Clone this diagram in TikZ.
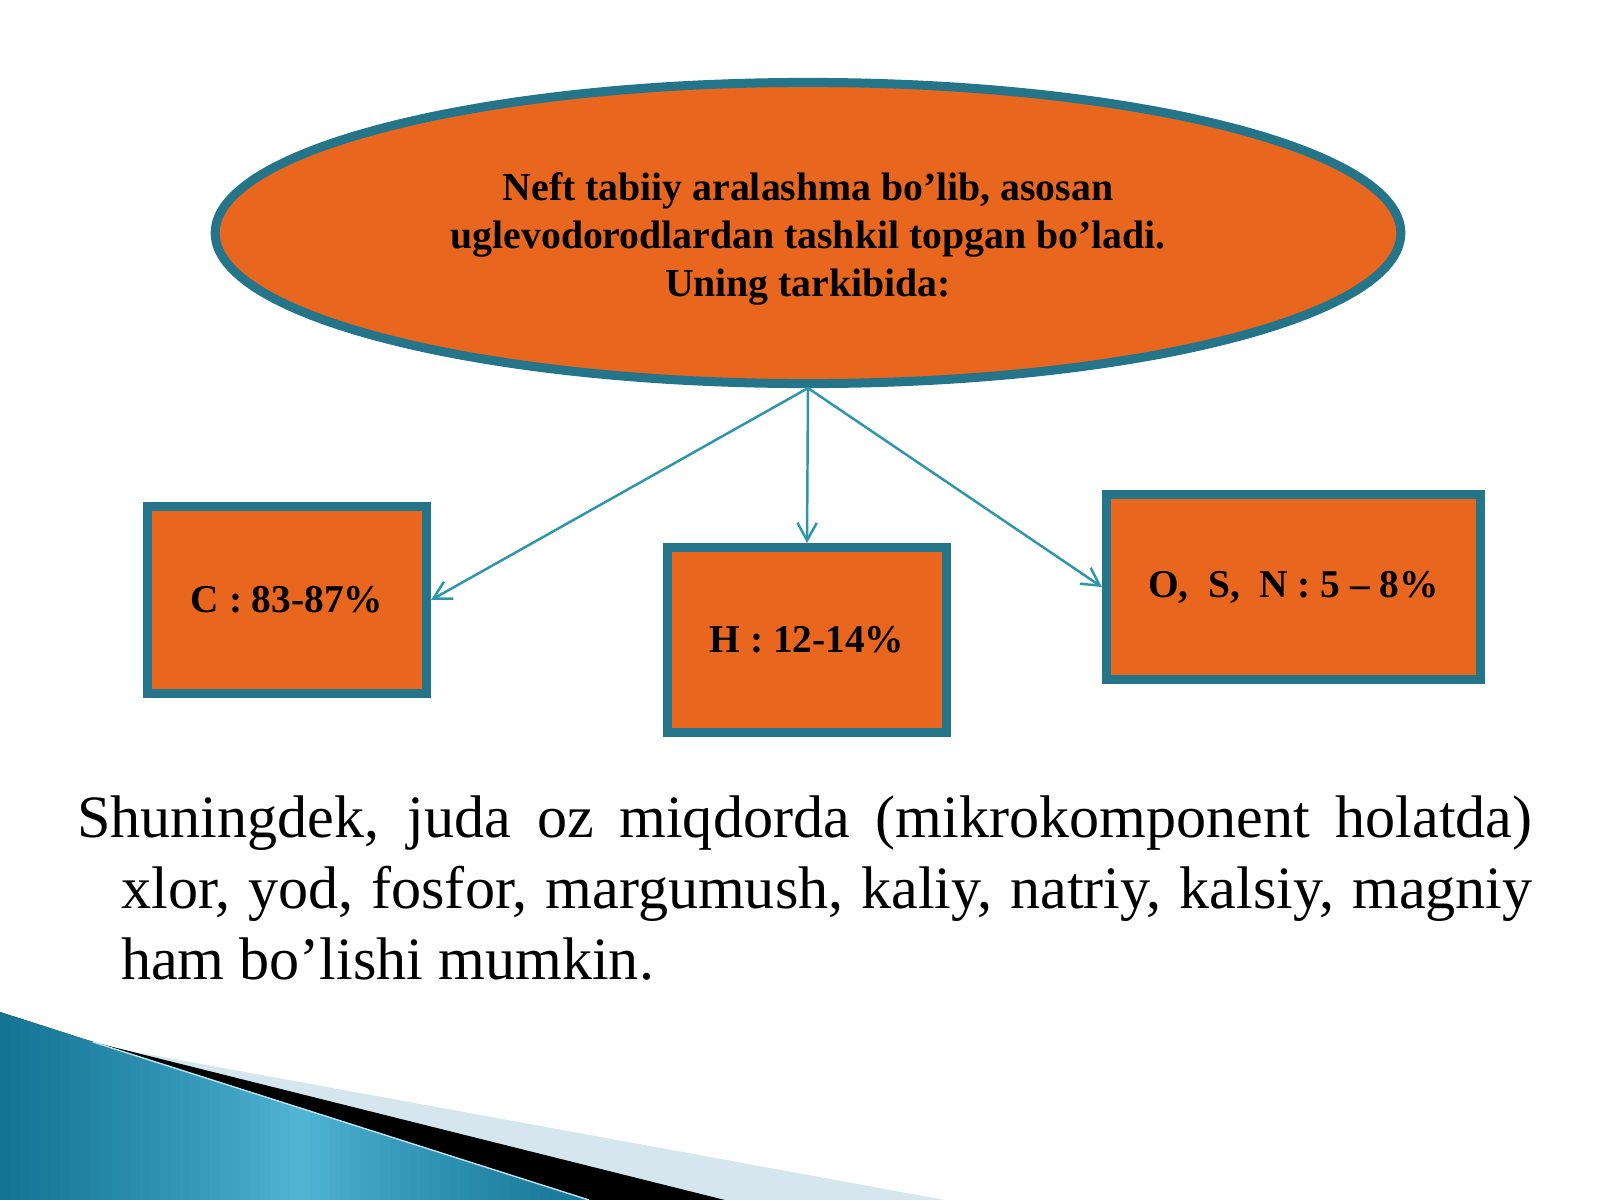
\documentclass[tikz,border=0pt]{standalone}
\usepackage{fontspec}
\setmainfont{Liberation Serif}
\usetikzlibrary{shapes.geometric,arrows.meta}
\definecolor{orng}{RGB}{232,102,30}
\definecolor{tealb}{RGB}{36,116,138}
\definecolor{arrowc}{RGB}{45,150,170}
\definecolor{lightstripe}{RGB}{214,230,238}
\definecolor{bluedark}{RGB}{20,116,148}
\definecolor{bluelight}{RGB}{82,182,214}
\begin{document}
\begin{tikzpicture}[x=0.01cm,y=-0.01cm,
  bigoval/.style={ellipse, draw=tealb, line width=2.56pt, fill=orng,
    minimum width=11.85cm, minimum height=3.01cm, inner sep=0pt},
  ovaltext/.style={align=center, inner sep=0pt,
    font=\fontsize{11.3}{13.66}\selectfont\bfseries},
  databox/.style={rectangle, draw=tealb, line width=2.7pt, fill=orng, inner sep=0pt,
    font=\fontsize{11.2}{13.4}\selectfont\bfseries},
  link/.style={draw=arrowc, line width=0.7pt, -{Straight Barb[length=5pt,width=5.5pt]}},
  bodytext/.style={anchor=base west, inner sep=0pt, font=\fontsize{17.1}{20.2}\selectfont}
]
\useasboundingbox (0,0) rectangle (1600,1200);
% bottom-left decoration
\fill[lightstripe] (125,1050) -- (945,1200) -- (700,1200) -- cycle;
\fill[black] (0,1012) -- (93,1042) -- (725,1200) -- (0,1200) -- cycle;
\begin{scope}
  \clip (0,1012) -- (589,1200) -- (0,1200) -- cycle;
  \foreach \i in {0,...,59}{
    \pgfmathsetmacro\mix{100*abs(2*\i/59-1)^0.8}
    \fill[bluedark!\mix!bluelight] (\i*10,1000) rectangle (\i*10+10.6,1200);
  }
\end{scope}
\draw[white!60!bluelight, line width=0.4pt] (93,1042) -- (589,1200);
% diagram
\node[bigoval] (top) at (808,233) {};
\node[ovaltext] (toptext) at (808,238.5) {Neft tabiiy aralashma bo’lib, asosan\\uglevodorodlardan tashkil topgan bo’ladi.\\Uning tarkibida:};
\node[databox, minimum width=2.785cm, minimum height=1.865cm] (c) at (287,600) {C : 83-87\%};
\node[databox, minimum width=2.785cm, minimum height=1.845cm] (h) at (807,640) {H : 12-14\%};
\node[databox, minimum width=3.735cm, minimum height=1.845cm] (o) at (1293.5,587) {O,\ \ S,\ \ N : 5 – 8\%};
\draw[link] (top.south) -- (c.east);
\draw[link] (top.south) -- (h.north);
\draw[link] (top.south) -- (o.west);
% body text
\node[bodytext] (para) at (76.5,837) {\parbox[t]{14.545cm}{\noindent\hangindent=0.44cm\hangafter=1 Shuningdek, juda oz miqdorda (mikrokomponent holatda)\linebreak xlor, yod, fosfor, margumush, kaliy, natriy, kalsiy, magniy\linebreak ham bo’lishi mumkin.}};
\end{tikzpicture}
\end{document}
